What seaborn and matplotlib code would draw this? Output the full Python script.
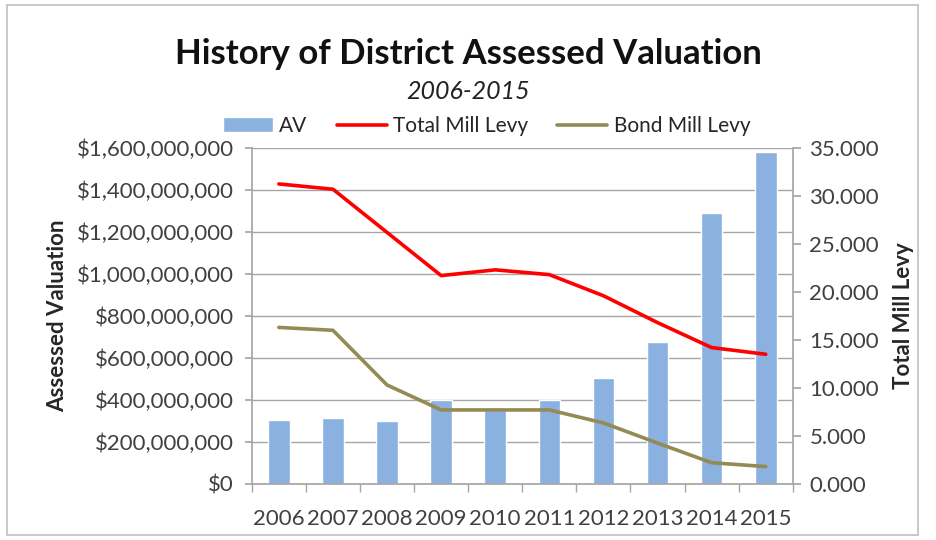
import matplotlib
matplotlib.use('Agg')
import matplotlib.pyplot as plt
import matplotlib.ticker as mticker
import numpy as np
import pandas as pd
import seaborn as sns

# values
years = ['2006', '2007', '2008', '2009', '2010', '2011', '2012', '2013', '2014', '2015']
av = [305e6, 314e6, 300e6, 400e6, 352e6, 400e6, 505e6, 676e6, 1290e6, 1580e6]
total_levy = [31.25, 30.7, 26.2, 21.7, 22.3, 21.8, 19.6, 16.8, 14.2, 13.5]
bond_levy = [16.3, 16.0, 10.3, 7.7, 7.7, 7.7, 6.35, 4.25, 2.2, 1.8]

df = pd.DataFrame({'year': years, 'av': av, 'total': total_levy, 'bond': bond_levy})
df['pos'] = np.arange(len(df))

sns.set_theme(style='white')
plt.rcParams['font.family'] = ['Lato', 'DejaVu Sans']

fig = plt.figure(figsize=(9.36, 5.4), dpi=100)
ax = fig.add_axes([0.269, 0.104, 0.578, 0.622])

sns.barplot(data=df, x='year', y='av', color='#8AB1E0', width=0.4,
            saturation=1, ax=ax, label='AV', zorder=2)
if ax.get_legend() is not None:
    ax.get_legend().remove()
ax.set_ylim(0, 1.6e9)
ax.set_xlim(-0.5, len(years) - 0.5)
ax.yaxis.set_major_locator(mticker.MultipleLocator(2e8))
ax.yaxis.set_major_formatter(mticker.FuncFormatter(lambda v, p: '${:,.0f}'.format(v)))
ax.grid(axis='y', color='#A6A6A6', linewidth=1, zorder=0)
ax.set_axisbelow(True)
ax.set_xlabel('')
ax.set_ylabel('Assessed Valuation', fontsize=16, fontweight='bold', labelpad=6)
ax.tick_params(axis='both', labelsize=16, colors='#404040', length=5, color='#A6A6A6')
ax.tick_params(axis='x', length=0, pad=18)
# tick marks between categories
ax.set_xticks(np.arange(-0.5, len(years), 1), minor=True)
ax.tick_params(axis='x', which='minor', length=6, color='#A6A6A6', bottom=True)
ax.tick_params(axis='y', left=True, pad=8)
for s in ['top', 'right']:
    ax.spines[s].set_visible(False)
for s in ['left', 'bottom']:
    ax.spines[s].set_color('#A6A6A6')

ax2 = ax.twinx()
sns.lineplot(data=df, x='pos', y='total', color='#FF0000', linewidth=2.6,
             ax=ax2, label='Total Mill Levy', legend=False)
sns.lineplot(data=df, x='pos', y='bond', color='#948A54', linewidth=2.6,
             ax=ax2, label='Bond Mill Levy', legend=False)
ax2.set_ylim(0, 35)
ax2.set_xlim(-0.5, len(years) - 0.5)
ax2.yaxis.set_major_locator(mticker.MultipleLocator(5))
ax2.yaxis.set_major_formatter(mticker.FormatStrFormatter('%.3f'))
ax2.set_ylabel('Total Mill Levy', fontsize=16, fontweight='bold', labelpad=10)
ax2.tick_params(axis='y', labelsize=16, colors='#404040', length=6, color='#A6A6A6',
                right=True, pad=6)
for s in ['top', 'left', 'bottom']:
    ax2.spines[s].set_visible(False)
ax2.spines['right'].set_color('#A6A6A6')
ax2.grid(False)

fig.text(0.5, 0.9, 'History of District Assessed Valuation', ha='center', va='center',
         fontsize=25, fontweight='bold', color='#111111')
fig.text(0.5, 0.83, '2006-2015', ha='center', va='center', fontsize=18,
         style='italic', color='#222222')

h1, l1 = ax.get_legend_handles_labels()
h2, l2 = ax2.get_legend_handles_labels()
fig.legend(h1 + h2, l1 + l2, loc='center', bbox_to_anchor=(0.52, 0.767), ncol=3,
           frameon=False, fontsize=15, handlelength=2.4, columnspacing=1.4,
           handletextpad=0.3)

fig.patches.append(plt.Rectangle((0.008, 0.01), 0.973, 0.98, transform=fig.transFigure,
                                 fill=False, edgecolor='#BFBFBF', linewidth=1.2))

fig.savefig('out.png', dpi=100)
